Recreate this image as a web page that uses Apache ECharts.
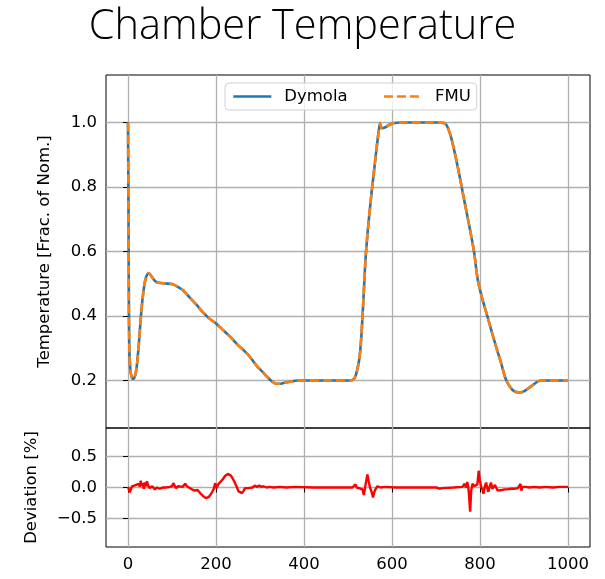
<!DOCTYPE html>
<html>
<head>
<meta charset="utf-8">
<script src="https://cdn.jsdelivr.net/npm/echarts@6/dist/echarts.min.js"></script>
<style>
  html, body { margin: 0; padding: 0; background: #fff; }
  #chart { width: 605px; height: 579px; }
</style>
</head>
<body>
<div id="chart"></div>
<script>
// 时间轴 [s]
const tempTime = [0, 1, 2, 3, 5, 8, 12, 16, 20, 25, 30, 35, 40, 47, 55, 62, 70, 85, 100, 110, 125, 140, 155, 170, 185, 200,
  215, 232, 250, 262, 275, 293, 305, 316, 326, 335, 345, 355, 370, 385, 400, 450, 500, 509, 514, 518, 522, 526, 530, 535,
  540, 545, 550, 555, 560, 565, 570, 573, 577, 585, 593, 605, 620, 700, 712, 722, 734, 749, 764, 779, 787, 795, 806, 817,
  832, 848, 859, 874, 891, 902, 916, 930, 940, 960, 1000]
// Dymola 结果
const tempDymola = [1.0, 0.75, 0.45, 0.3, 0.24, 0.212, 0.205, 0.215, 0.245, 0.32, 0.41, 0.475, 0.515, 0.533, 0.52, 0.508,
  0.503, 0.501, 0.499, 0.493, 0.48, 0.458, 0.436, 0.412, 0.392, 0.377, 0.358, 0.336, 0.31, 0.295, 0.277, 0.245, 0.228,
  0.212, 0.199, 0.191, 0.19, 0.193, 0.197, 0.2, 0.2, 0.2, 0.2, 0.201, 0.206, 0.218, 0.24, 0.27, 0.33, 0.45, 0.58, 0.665,
  0.735, 0.8, 0.86, 0.92, 0.975, 0.997, 0.982, 0.985, 0.992, 0.998, 1.0, 1.0, 0.999, 0.996, 0.955, 0.865, 0.76, 0.656,
  0.594, 0.512, 0.45, 0.398, 0.326, 0.254, 0.203, 0.171, 0.163, 0.168, 0.182, 0.196, 0.2, 0.2, 0.2]
// FMU 结果（与 Dymola 几乎重合）
const tempFmu = [1.0, 0.75, 0.45, 0.3, 0.24, 0.212, 0.205, 0.215, 0.245, 0.32, 0.41, 0.475, 0.515, 0.533, 0.52, 0.508,
  0.503, 0.501, 0.499, 0.493, 0.48, 0.458, 0.436, 0.412, 0.392, 0.377, 0.358, 0.336, 0.31, 0.295, 0.277, 0.245, 0.228,
  0.212, 0.199, 0.191, 0.19, 0.193, 0.197, 0.2, 0.2, 0.2, 0.2, 0.201, 0.206, 0.218, 0.24, 0.27, 0.33, 0.45, 0.58, 0.665,
  0.735, 0.8, 0.86, 0.92, 0.975, 0.997, 0.982, 0.985, 0.992, 0.998, 1.0, 1.0, 0.999, 0.996, 0.955, 0.865, 0.76, 0.656,
  0.594, 0.512, 0.45, 0.398, 0.326, 0.254, 0.203, 0.171, 0.163, 0.168, 0.182, 0.196, 0.2, 0.2, 0.2]

// 偏差 [%]
const devTime = [0, 2, 4, 7, 9, 13, 17, 20, 24, 27, 29, 31, 33, 36, 38, 41, 43, 46, 49, 55, 61, 66, 72, 80, 87, 95, 100,
  103, 106, 109, 114, 118, 124, 130, 134, 137, 145, 152, 158, 164, 171, 177, 184, 190, 195, 198, 201, 205, 209, 215, 221,
  228, 234, 240, 246, 251, 255, 259, 263, 266, 270, 274, 278, 283, 288, 293, 298, 303, 308, 315, 322, 331, 345, 360, 380,
  420, 470, 510, 517, 520, 524, 528, 533, 536, 540, 544, 547, 550, 554, 557, 560, 563, 567, 574, 585, 610, 650, 700, 708,
  711, 715, 719, 740, 760, 765, 768, 771, 773, 775, 777.6, 780, 783, 787, 791, 794, 797, 800, 803, 806, 808, 811, 814, 816,
  819, 822, 825, 828, 831, 834, 836, 840, 844, 850, 856, 862, 870, 878, 886, 890, 892, 894, 896, 900, 905, 912, 924, 935,
  950, 965, 980, 1000]
const devValue = [0.01, -0.03, -0.08, -0.02, 0.02, -0.01, 0.04, 0.02, 0.06, 0.01, 0.11, 0.03, 0.07, -0.02, 0.08, 0.02,
  0.1, 0.03, -0.01, 0.02, -0.03, 0.0, -0.02, 0.0, 0.0, 0.01, 0.02, 0.07, 0.03, -0.01, 0.02, 0.03, 0.01, 0.06, 0.02, -0.01,
  -0.03, -0.05, -0.04, -0.09, -0.14, -0.17, -0.15, -0.09, -0.02, 0.07, -0.01, 0.05, 0.07, 0.13, 0.19, 0.22, 0.19, 0.12,
  0.03, -0.06, -0.08, -0.09, -0.05, -0.01, 0.01, -0.01, 0.02, 0.0, 0.03, 0.01, 0.03, 0.01, 0.02, 0.0, 0.01, 0.0, 0.01, 0.0,
  0.01, 0.0, 0.0, 0.0, 0.05, 0.0, 0.01, -0.02, -0.03, -0.12, 0.05, 0.21, 0.1, 0.0, -0.08, -0.16, -0.07, -0.02, 0.02, 0.0,
  0.01, 0.0, 0.0, 0.0, -0.02, 0.01, -0.01, 0.0, 0.0, 0.01, 0.06, 0.0, 0.09, 0.03, -0.12, -0.39, -0.05, 0.06, 0.02, 0.0,
  0.05, 0.27, 0.1, 0.0, -0.04, -0.1, 0.02, 0.08, 0.0, -0.07, 0.02, 0.08, -0.02, -0.05, 0.04, 0.02, -0.05, -0.03, -0.04,
  -0.03, -0.03, -0.02, -0.02, -0.01, 0.0, 0.06, -0.05, 0.01, 0.0, 0.01, 0.0, 0.01, 0.0, 0.01, 0.0, 0.01, 0.01]

// 刻度
const xTicks = [0, 200, 400, 600, 800, 1000]
const tempTicks = [0.2, 0.4, 0.6, 0.8, 1.0]
const devTicks = [-0.5, 0, 0.5]

function zip(xs, ys) {
  return xs.map((x, i) => [x, ys[i]])
}
function fmtNum(v) {
  const s = Math.abs(v).toFixed(1)
  return v < -1e-9 ? '\u2212' + s : s
}

const chart = echarts.init(document.getElementById('chart'), null, { renderer: 'canvas' })
const labelFont = { fontFamily: 'DejaVu Sans', fontSize: 16.5, color: '#000' }
const gridLine = { show: true, lineStyle: { color: '#b0b0b0', width: 1.3 } }

chart.setOption({
  animation: false,
  title: {
    text: 'Chamber Temperature',
    left: 'center',
    top: 1,
    textStyle: { fontFamily: 'Open Sans', fontWeight: 300, fontSize: 41.5, color: '#000' }
  },
  legend: {
    data: ['Dymola', 'FMU'],
    left: 225,
    top: 83,
    padding: [5, 6, 5, 7],
    itemWidth: 38,
    itemHeight: 14,
    itemGap: 35,
    itemStyle: { opacity: 0 },
    lineStyle: { width: 2.6 },
    borderColor: '#d0d0d0',
    borderWidth: 1,
    borderRadius: 4,
    backgroundColor: 'rgba(255,255,255,0.8)',
    textStyle: Object.assign({ padding: [0, 0, 0, 8] }, labelFont)
  },
  grid: [
    { left: 106, top: 75, width: 484, height: 353, show: true, borderColor: '#000', borderWidth: 1 },
    { left: 106, top: 428, width: 484, height: 119, show: true, borderColor: '#000', borderWidth: 1 }
  ],
  xAxis: [
    {
      gridIndex: 0, type: 'value', min: -50, max: 1050,
      axisLine: { show: false },
      axisTick: { show: false, customValues: xTicks },
      axisLabel: { show: false, customValues: xTicks },
      splitLine: gridLine
    },
    {
      gridIndex: 1, type: 'value', min: -50, max: 1050,
      axisLine: { show: false },
      axisTick: { show: true, length: 5, lineStyle: { color: '#000', width: 1 }, customValues: xTicks },
      axisLabel: Object.assign({ customValues: xTicks, margin: 9, formatter: v => String(v) }, labelFont),
      splitLine: gridLine
    }
  ],
  yAxis: [
    {
      gridIndex: 0, type: 'value', min: 0.053, max: 1.147,
      name: 'Temperature [Frac. of Nom.]',
      nameLocation: 'middle', nameRotate: 90, nameGap: 53,
      nameTextStyle: labelFont,
      axisLine: { show: false },
      axisTick: { show: true, length: 5, lineStyle: { color: '#000', width: 1 }, customValues: tempTicks },
      axisLabel: Object.assign({ customValues: tempTicks, margin: 9, formatter: fmtNum }, labelFont),
      splitLine: gridLine
    },
    {
      gridIndex: 1, type: 'value', min: -0.96, max: 0.96,
      name: 'Deviation [%]',
      nameLocation: 'middle', nameRotate: 90, nameGap: 66,
      nameTextStyle: labelFont,
      axisLine: { show: false },
      axisTick: { show: true, length: 5, lineStyle: { color: '#000', width: 1 }, customValues: devTicks },
      axisLabel: Object.assign({ customValues: devTicks, margin: 9, formatter: fmtNum }, labelFont),
      splitLine: gridLine
    }
  ],
  series: [
    {
      name: 'Dymola', type: 'line', xAxisIndex: 0, yAxisIndex: 0,
      data: zip(tempTime, tempDymola), smooth: 0.3,
      symbol: 'none', color: '#1f77b4',
      lineStyle: { width: 2.6, color: '#1f77b4' }
    },
    {
      name: 'FMU', type: 'line', xAxisIndex: 0, yAxisIndex: 0,
      data: zip(tempTime, tempFmu), smooth: 0.3,
      symbol: 'none', color: '#ff7f0e',
      lineStyle: { width: 2.6, color: '#ff7f0e', type: [9, 4] }
    },
    {
      name: 'Deviation', type: 'line', xAxisIndex: 1, yAxisIndex: 1,
      data: zip(devTime, devValue),
      symbol: 'none', color: '#ff0000',
      lineStyle: { width: 2.4, color: '#ff0000' }
    }
  ]
})
</script>
</body>
</html>
